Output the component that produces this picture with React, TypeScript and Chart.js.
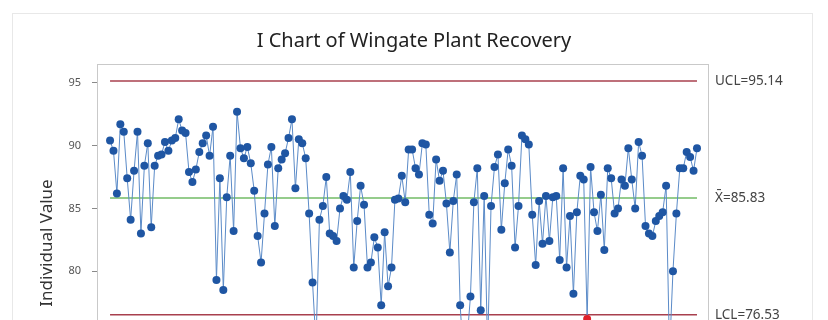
import React, { useEffect, useRef } from 'react';
import { Chart, registerables } from 'chart.js';

Chart.register(...registerables);

const TITLE = 'I Chart of Wingate Plant Recovery';
const Y_LABEL = 'Individual Value';
const UCL = 95.14;
const CENTER = 85.83;
const LCL = 76.53;
const Y_TICKS = [70, 75, 80, 85, 90, 95];

const recovery = [
  90.4, 89.6, 86.2, 91.7, 91.1, 87.4, 84.1, 88.0, 91.1, 83.0,
  88.4, 90.2, 83.5, 88.4, 89.2, 89.3, 90.3, 89.6, 90.4, 90.6,
  92.1, 91.2, 91.0, 87.9, 87.1, 88.1, 89.5, 90.2, 90.8, 89.2,
  91.5, 79.3, 87.4, 78.5, 85.9, 89.2, 83.2, 92.7, 89.8, 89.0,
  89.9, 88.6, 86.4, 82.8, 80.7, 84.6, 88.5, 89.9, 83.6, 88.2,
  88.9, 89.4, 90.6, 92.1, 86.6, 90.5, 90.2, 89.0, 84.6, 79.1,
  74.2, 84.1, 85.2, 87.5, 83.0, 82.8, 82.4, 85.0, 86.0, 85.7,
  87.9, 80.3, 84.0, 86.8, 85.3, 80.3, 80.7, 82.7, 81.9, 77.3,
  83.1, 78.8, 80.3, 85.7, 85.8, 87.6, 85.5, 89.7, 89.7, 88.2,
  87.7, 90.2, 90.1, 84.5, 83.8, 88.9, 87.2, 88.0, 85.4, 81.5,
  85.6, 87.7, 77.3, 73.0, 74.5, 78.0, 85.5, 88.2, 76.9, 86.0,
  73.8, 85.2, 88.3, 89.3, 83.3, 87.0, 89.7, 88.4, 81.9, 85.2,
  90.8, 90.5, 90.1, 84.5, 80.5, 85.6, 82.2, 86.0, 82.4, 85.9,
  86.0, 80.9, 88.2, 80.3, 84.4, 78.2, 84.7, 87.6, 87.3, 76.2,
  88.3, 84.7, 83.2, 86.1, 81.7, 88.2, 87.4, 84.6, 85.0, 87.3,
  86.8, 89.8, 87.3, 85.0, 90.3, 89.2, 83.6, 83.0, 82.8, 84.0,
  84.4, 84.7, 86.8, 73.5, 80.0, 84.6, 88.2, 88.2, 89.5, 89.1,
  88.0, 89.8,
];

const decor = {
  id: 'decor',
  beforeDraw(chart: any) {
    const { ctx } = chart;
    ctx.save();
    ctx.fillStyle = '#ffffff';
    ctx.fillRect(0, 0, chart.width, chart.height);
    ctx.strokeStyle = '#e8e8e8';
    ctx.lineWidth = 1;
    ctx.strokeRect(12.5, 13.5, 800, 600);
    ctx.restore();
  },
  afterDraw(chart: any) {
    const { ctx, chartArea } = chart;
    const { left, top, right, bottom } = chartArea;
    const y = chart.scales.y;
    ctx.save();
    ctx.strokeStyle = '#c9c9c9';
    ctx.lineWidth = 1;
    ctx.strokeRect(left + 0.5, top + 0.5, right - left - 1, bottom - top);
    ctx.fillStyle = '#444444';
    ctx.font = "13.5px 'Noto Sans', sans-serif";
    ctx.textAlign = 'left';
    ctx.textBaseline = 'middle';
    const x = right + 6;
    ctx.fillText(`UCL=${UCL.toFixed(2)}`, x, y.getPixelForValue(UCL));
    ctx.fillText(`X\u0304=${CENTER.toFixed(2)}`, x, y.getPixelForValue(CENTER));
    ctx.fillText(`LCL=${LCL.toFixed(2)}`, x, y.getPixelForValue(LCL));
    ctx.restore();
  },
};

export default function App() {
  const ref = useRef<HTMLCanvasElement>(null);
  useEffect(() => {
    if (!ref.current) return;
    Chart.defaults.font.family = "'Noto Sans', sans-serif";
    const n = recovery.length;
    const points = recovery.map((v, i) => ({ x: i + 1, y: v }));
    const limitLine = (v: number) => [{ x: 1, y: v }, { x: n, y: v }];
    const chart = new Chart(ref.current, {
      type: 'line',
      data: {
        datasets: [
          {
            label: 'Recovery',
            data: points,
            borderColor: '#5b8bc8',
            borderWidth: 1,
            pointRadius: 4,
            pointBorderWidth: 0,
            pointBackgroundColor: recovery.map((v) => (v < LCL ? '#e0202a' : '#1f56a3')),
            tension: 0,
          },
          {
            label: 'UCL',
            data: limitLine(UCL),
            borderColor: '#a8404e',
            borderWidth: 1.5,
            pointRadius: 0,
          },
          {
            label: 'Center',
            data: limitLine(CENTER),
            borderColor: '#95cc8c',
            borderWidth: 2,
            pointRadius: 0,
          },
          {
            label: 'LCL',
            data: limitLine(LCL),
            borderColor: '#a8404e',
            borderWidth: 1.5,
            pointRadius: 0,
          },
        ],
      },
      options: {
        responsive: false,
        animation: false,
        layout: { padding: { left: 0, right: 0, top: 0, bottom: 38 } },
        plugins: {
          legend: { display: false },
          tooltip: { enabled: false },
          title: {
            display: true,
            text: TITLE,
            color: '#222222',
            font: { size: 20, weight: 'normal' },
            padding: { top: 29, bottom: 11 },
          },
        },
        scales: {
          x: {
            type: 'linear',
            display: false,
            min: -2.8,
            max: 175.5,
          },
          y: {
            type: 'linear',
            min: 68,
            max: 96.5,
            afterBuildTicks: (scale: any) => {
              scale.ticks = Y_TICKS.map((v) => ({ value: v }));
            },
            afterFit: (scale: any) => {
              scale.width = 97;
            },
            border: { display: false },
            grid: {
              display: true,
              drawOnChartArea: false,
              drawTicks: true,
              tickLength: 5,
              color: '#8a8a8a',
            },
            ticks: {
              padding: 11,
              color: '#555555',
              font: { size: 11 },
            },
            title: {
              display: true,
              text: Y_LABEL,
              color: '#333333',
              font: { size: 17, weight: 'normal' },
              padding: { top: 36.8, bottom: 0 },
            },
          },
          yRight: {
            type: 'linear',
            position: 'right',
            min: 0,
            max: 1,
            afterFit: (scale: any) => {
              scale.width = 119;
            },
            border: { display: false },
            grid: { display: false },
            ticks: { display: false },
          },
        },
      },
      plugins: [decor],
    });
    return () => chart.destroy();
  }, []);
  return (
    <div style={{ position: 'fixed', left: 0, top: 0, width: 828, height: 320, overflow: 'hidden', background: '#fff' }}>
      <canvas ref={ref} width={828} height={460} style={{ display: 'block' }} />
    </div>
  );
}
